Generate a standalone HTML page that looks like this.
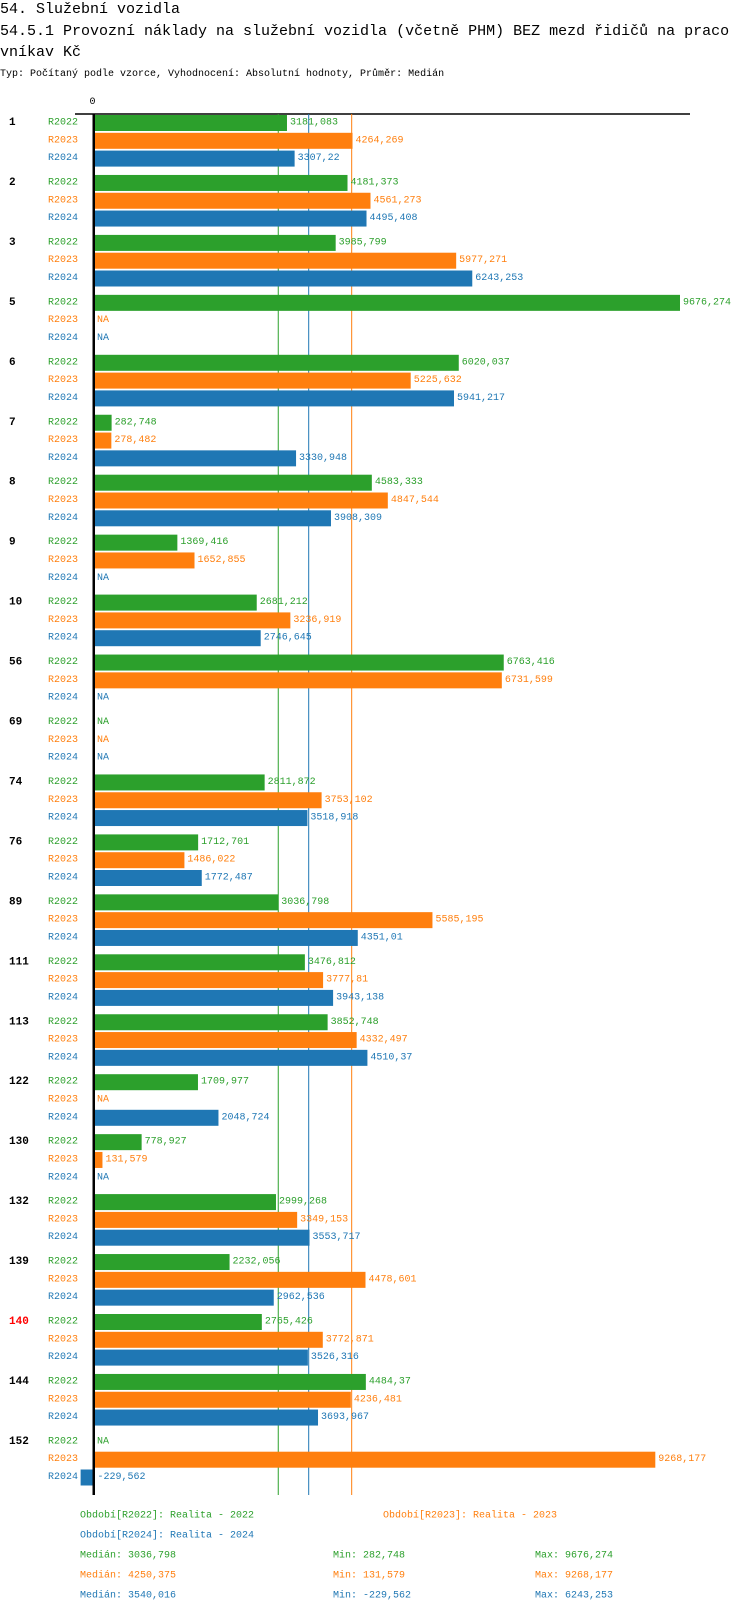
<!DOCTYPE html>
<html><head><meta charset="utf-8">
<style>
body{margin:0;background:#fff;width:750px;height:1614px;overflow:hidden}
svg{display:block}
text{font-family:"Liberation Mono","DejaVu Sans Mono",monospace}
</style></head>
<body>
<svg id="chart" width="750" height="1614" xmlns="http://www.w3.org/2000/svg">
<text x="0" y="13" font-size="15">54. Služební vozidla</text>
<text x="0" y="35" font-size="15">54.5.1 Provozní náklady na služební vozidla (včetně PHM) BEZ mezd řidičů na praco</text>
<text x="0" y="56" font-size="15">vníkav Kč</text>
<text x="0" y="76" font-size="10">Typ: Počítaný podle vzorce, Vyhodnocení: Absolutní hodnoty, Průměr: Medián</text>
<g id="plot"></g>
</svg>
<script>
const categories=["1","2","3","5","6","7","8","9","10","56","69","74","76","89","111","113","122","130","132","139","140","144","152"];
const seriesNames=["R2022","R2023","R2024"];
const r2022=[3181.083,4181.373,3985.799,9676.274,6020.037,282.748,4583.333,1369.416,2681.212,6763.416,null,2811.872,1712.701,3036.798,3476.812,3852.748,1709.977,778.927,2999.268,2232.056,2765.426,4484.37,null];
const r2023=[4264.269,4561.273,5977.271,null,5225.632,278.482,4847.544,1652.855,3236.919,6731.599,null,3753.102,1486.022,5585.195,3777.81,4332.497,null,131.579,3349.153,4478.601,3772.871,4236.481,9268.177];
const r2024=[3307.22,4495.408,6243.253,null,5941.217,3330.948,3908.309,null,2746.645,null,null,3518.918,1772.487,4351.01,3943.138,4510.37,2048.724,null,3553.717,2962.536,3526.316,3693.967,-229.562];
const medians=[3036.798,4250.375,3540.016];
const mins=[282.748,131.579,-229.562];
const maxs=[9676.274,9268.177,6243.253];
const legendTexts=["Období[R2022]: Realita - 2022","Období[R2023]: Realita - 2023","Období[R2024]: Realita - 2024"];
const highlighted=["140"];

const colors=["#2ca02c","#ff7f0e","#1f77b4"];
const series=[r2022,r2023,r2024];
const NS="http://www.w3.org/2000/svg";
const g=document.getElementById('plot');
const X0=94.5, SCALE=585.5/9676.274;
const x=v=>X0+v*SCALE;
const TOP=115, GP=59.95, RP=17.8, BH=16;
const fmt=v=>String(v).replace('.',',');
function el(t,a,txt){const e=document.createElementNS(NS,t);for(const k in a)e.setAttribute(k,a[k]);if(txt!=null)e.textContent=txt;g.appendChild(e);return e;}
const bottom=1495;
// axis top line
let e=el('line',{x1:75,y1:114,x2:690,y2:114,stroke:'#000','stroke-width':1.5});


e=el('text',{x:x(0)-2,y:104,'font-size':10,'text-anchor':'middle'},'0');


// median lines
medians.forEach((m,i)=>{
  const l=el('line',{x1:x(m),y1:114,x2:x(m),y2:bottom,stroke:colors[i],'stroke-width':1});
  
  
});
categories.forEach((c,gi)=>{
  const gy=TOP+gi*GP;
  const t=el('text',{x:9,y:gy+BH/2,'font-size':11,'font-weight':'bold','dominant-baseline':'central',fill:highlighted.includes(c)?'#ff0000':'#000'},c);
  
  
  series.forEach((s,si)=>{
    const y=gy+si*RP;
    const lb=el('text',{x:48,y:y+BH/2,'font-size':10,'dominant-baseline':'central',fill:colors[si]},seriesNames[si]);
    
    
    const v=s[gi];
    if(v==null){
      const na=el('text',{x:97,y:y+BH/2,'font-size':10,'dominant-baseline':'central',fill:colors[si]},'NA');
      
      
      return;
    }
    const x1=Math.min(x(0),x(v)), x2=Math.max(x(0),x(v));
    const b=el('rect',{x:x1,y:y,width:Math.max(0,x2-x1),height:BH,fill:colors[si]});
    
    
    const vl=el('text',{x:(v<0?x(0):x(v))+3,y:y+BH/2,'font-size':10,'dominant-baseline':'central',fill:colors[si]},fmt(v));
    
    
  });
});
// zero axis
e=el('rect',{x:92.5,y:114,width:2.5,height:bottom-114,fill:'#000'});


// legend
[[80,1516],[383,1516],[80,1536]].forEach((p,i)=>{
  const t=el('text',{x:p[0],y:p[1],'font-size':10,'dominant-baseline':'central',fill:colors[i]},legendTexts[i]);
  
  
});
[0,1,2].forEach(i=>{
  const y=1556+i*20;
  let t=el('text',{x:80,y:y,'font-size':10,'dominant-baseline':'central',fill:colors[i]},'Medián: '+fmt(medians[i]));
  
  
  t=el('text',{x:333,y:y,'font-size':10,'dominant-baseline':'central',fill:colors[i]},'Min: '+fmt(mins[i]));
  
  
  t=el('text',{x:535,y:y,'font-size':10,'dominant-baseline':'central',fill:colors[i]},'Max: '+fmt(maxs[i]));
  
  
});
</script>
</body></html>
